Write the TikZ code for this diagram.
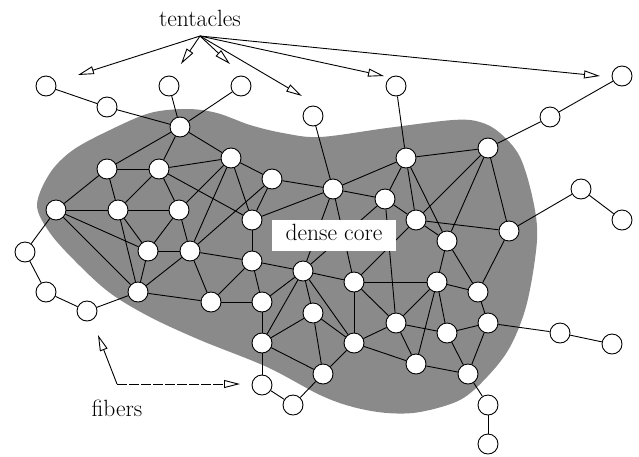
\documentclass[tikz,border=0pt]{standalone}
\usetikzlibrary{arrows.meta,backgrounds}
\definecolor{blobgray}{RGB}{138,138,138}
\begin{document}
\begin{tikzpicture}[x=1pt,y=-1pt,
  vtx/.style={circle,draw,fill=white,minimum size=20pt,inner sep=0pt,line width=0.9pt},
  link/.style={line width=0.9pt},
  ptr/.style={line width=0.9pt,-{Triangle[open,length=16pt,width=8pt]}},
  lbl/.style={font=\rmfamily\fontsize{23.5}{28}\selectfont,inner sep=0pt}]
\useasboundingbox (0,0) rectangle (639,456);
% outer nodes
\foreach \n/\x/\y in {A1/46/86, A2/107/107, A3/169/86, A4/241/86, A5/313/116,
  A6/396/86, A7/550/117, A8/622/76, A9/581/189, A10/622/220, A11/560/333,
  A12/612/344, A13/488/405, A14/488/444, A15/262/385, A16/293/405,
  A17/87/311, A18/46/292, A19/25/252}
  \node[vtx] (\n) at (\x,\y) {};
% core nodes
\foreach \n/\x/\y in {B1/180/127, B2/107/169, B3/159/169, B4/231/158, B5/272/179,
  B6/56/210, B7/118/210, B8/179/210, B9/252/220,
  C1/406/158, C2/333/189, C3/385/199, C4/416/220, C5/488/148, C6/447/241,
  C7/509/231, C8/437/282, C9/478/292,
  D1/148/251, D2/190/251, D3/252/261, D4/138/292, D5/211/302, D6/303/271,
  D7/354/282, D8/262/302, D9/313/313,
  E1/262/343, E2/354/343, E3/323/374, E4/396/323, E5/447/333, E6/488/323,
  E7/416/364, E8/468/374}
  \node[vtx] (\n) at (\x,\y) {};
\begin{pgfonlayer}{background}
\fill[blobgray] plot[smooth cycle, tension=0.55] coordinates {
  (37,205) (50,173) (73,150) (110,130) (150,113) (187,109) (217,113) (250,125)
  (283,133) (320,137) (387,128) (453,120) (480,122) (500,133) (520,157) (533,200)
  (537,240) (527,303) (510,347) (487,377) (460,400) (420,412) (387,413) (353,407)
  (320,395) (267,367) (200,340) (150,317) (110,293) (77,263) (50,233)};
\foreach \a/\b in {A1/A2, A2/B1, A3/B1, A4/B1, A5/C2, A6/C1, A7/A8, A7/C5,
  A9/A10, A9/C7, A11/A12, A11/E6, A13/A14, A13/E8, A15/A16, A15/E1, A16/E3,
  A17/A18, A18/A19, A19/B6, A17/D4,
  B1/B2, B1/B3, B1/B4, B2/B3, B2/B6, B2/B7,
  B3/B4, B3/B7, B3/B8, B3/B9, B4/B5, B4/B8, B4/D2, B4/B9,
  B5/B9, B5/D2, B5/C2, B6/B7, B6/D1, B6/D4, B7/B8, B7/D1, B7/D4,
  B8/D1, B8/D2, B9/D3, B9/C2, D1/D2, D1/D4, D2/D4, D2/D5, D2/D3,
  D3/D5, D3/D8, D3/D6, D4/D5, D5/D8, D8/D6, D8/E1,
  D6/D7, D6/E1, D6/D9, D6/E2, C2/D6, C3/D6, D9/E1, D9/E3, D9/E2,
  C2/C1, C2/C3, C2/D7, C1/C5, C1/C3, C1/C4, C1/C6, C3/C4, C3/E4,
  C4/C5, C4/C7, C4/C6, C4/D7, C5/C6, C5/C7, C6/C8, C6/C9, C7/C9,
  D7/C8, D7/E2, D7/E4, E1/E3, E2/E3, E2/E4, E2/E7,
  E4/C8, E4/E5, E4/E7, C8/E5, C8/E7, C8/C9, C9/E6,
  E5/E6, E5/E8, E6/E8, E7/E8}
  \draw[link] (\a) -- (\b);
\end{pgfonlayer}
% dense core label
\node[lbl, fill=white, minimum width=124pt, minimum height=31pt,
  text height=16.5pt, text depth=6.5pt] (core) at (334,235.5) {dense core};
% tentacles
\node[lbl, anchor=base] (tent) at (200,26) {tentacles};
\coordinate (tc) at (200,36);
\coordinate (t1) at (78,75);
\coordinate (t2) at (181,64);
\coordinate (t3) at (230,64);
\coordinate (t4) at (302,96);
\coordinate (t5) at (384,76);
\coordinate (t6) at (600,76);
\foreach \t in {t1,t2,t3,t4,t5,t6}
  \draw[ptr] (tc) -- (\t);
% fibers
\node[lbl, anchor=base] (fib) at (117,416) {fibers};
\coordinate (fc) at (117,384);
\coordinate (f1) at (98,335);
\coordinate (f2) at (240,384);
\draw[ptr] (fc) -- (f1);
\draw[ptr, dash pattern=on 10pt off 2pt] (fc) -- (f2);
\end{tikzpicture}
\end{document}
